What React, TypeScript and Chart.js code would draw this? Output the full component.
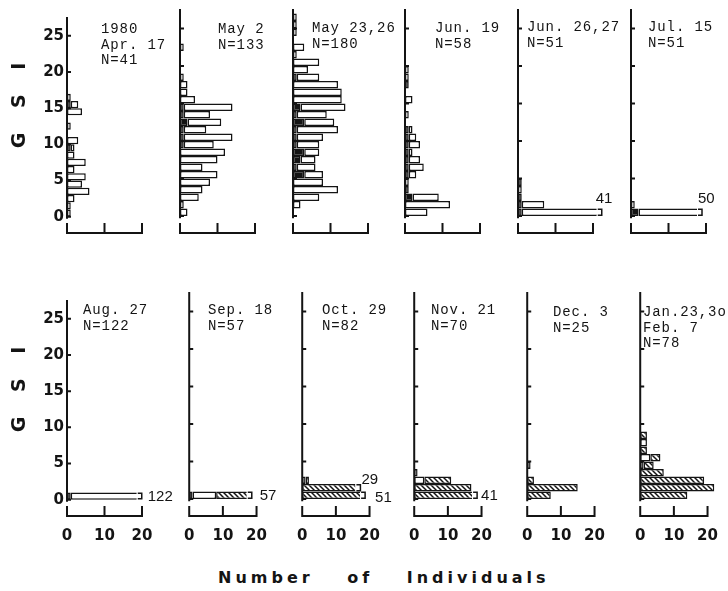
import { useEffect, useRef } from 'react';
import { Chart, registerables } from 'chart.js';

Chart.register(...registerables);

// ---------------- data ----------------
const gsiTicks = [0, 5, 10, 15, 20, 25];
const countTicks = [0, 10, 20];
const gsiMin = -2.4;
const gsiMax = 27.6;
const countMax = 24;
const binCount = 27; // GSI classes 0-1, 1-2, ... 26-27

const panelDates: string[][] = [
  ['1980', 'Apr. 17'],
  ['May 2'],
  ['May 23,26'],
  ['Jun. 19'],
  ['Jun. 26,27'],
  ['Jul. 15'],
  ['Aug. 27'],
  ['Sep. 18'],
  ['Oct. 29'],
  ['Nov. 21'],
  ['Dec. 3'],
  ['Jan.23,3o', 'Feb. 7'],
];
const sampleSizes = [41, 133, 180, 58, 51, 51, 122, 57, 82, 70, 25, 78];

// counts per GSI class (index = lower bound of class)
const blackCounts: number[][] = [
  [0, 0, 0, 0, 0, 0, 0, 0, 0, 1, 0, 0, 0, 0, 0, 1, 0],
  [0, 0, 0, 0, 0, 0, 0, 0, 0, 1, 1, 1, 2, 1, 1],
  [0, 0, 0, 0, 0, 3, 1, 2, 3, 1, 1, 1, 3, 1, 2, 0, 0, 0, 1],
  [0, 0, 2, 1, 0, 1, 1, 1, 1, 1, 1, 1, 0, 0, 0, 0, 0, 1],
  [1, 1, 1, 0, 1],
  [2],
  [1],
  [1],
  [],
  [],
  [],
  [],
];
const whiteCounts: number[][] = [
  [1, 1, 2, 6, 4, 5, 2, 5, 2, 1, 3, 0, 1, 0, 4, 2, 1],
  [2, 1, 5, 6, 8, 10, 6, 10, 12, 8, 13, 6, 9, 7, 13, 4, 2, 2, 1, 0, 0, 0, 1],
  [0, 2, 7, 12, 8, 5, 5, 4, 4, 6, 7, 11, 8, 8, 12, 13, 13, 12, 6, 4, 7, 1, 3, 0, 1, 1, 1],
  [6, 12, 7, 0, 1, 2, 4, 3, 1, 3, 2, 1, 0, 1, 0, 2, 0, 0, 1, 1],
  [40, 6, 0, 1, 0],
  [48, 1],
  [121],
  [7],
  [0, 0, 1],
  [0, 0, 3, 1],
  [0, 0, 0, 0, 1],
  [0, 0, 0, 0, 1, 3, 0, 2],
];
const hatchedCounts: number[][] = [
  [],
  [],
  [],
  [],
  [],
  [],
  [],
  [49],
  [51, 29, 1],
  [41, 17, 8],
  [7, 15, 2],
  [14, 22, 19, 7, 3, 3, 2, 0, 2],
];

// bars drawn broken (value beyond the axis)
const brokenPanel = [4, 5, 6, 7, 8, 8, 9];
const brokenBin = [0, 0, 0, 0, 1, 0, 0];
const brokenDrawnTo = [21, 17.6, 18.6, 17.1, 15.8, 17.2, 17.2];

// ---------------- layout / style ----------------
const INK = '#141414';
const PX_PER_GSI = 7.5;
const PX_PER_COUNT = 3.75;
const PAD_T = 4;
const PAD_R = 24;
const X_AXIS_H = 30;
const FIRST_AXIS_X = 67;
const COL_STEP = 112.8;
const ZERO_Y = [216, 499];
const brokenLabelOffset = [
  [-1, -13],
  [1, -13],
  [11, 1],
  [13, 1],
  [6, -8],
  [15, 3],
  [9, 1],
];
const titlePos = [
  [101, 29], [218, 29], [312, 28], [435, 28], [527, 27], [648, 27],
  [83, 310], [208, 310], [322, 310], [431, 310], [553, 312], [643, 312],
];
const tickFont = { family: "'DejaVu Sans', sans-serif", size: 15, weight: 'bold' as const };

function makeHatch(): CanvasPattern | string {
  const s = 5;
  const c = document.createElement('canvas');
  c.width = s;
  c.height = s;
  const g = c.getContext('2d');
  if (!g) return '#888';
  g.fillStyle = '#fff';
  g.fillRect(0, 0, s, s);
  g.strokeStyle = INK;
  g.lineWidth = 1.5;
  g.beginPath();
  g.moveTo(-1, -1);
  g.lineTo(s + 1, s + 1);
  g.moveTo(-1, s - 1);
  g.lineTo(1, s + 1);
  g.moveTo(s - 1, -1);
  g.lineTo(s + 1, 1);
  g.stroke();
  return g.createPattern(c, 'repeat') || '#888';
}

function Panel({ idx }: { idx: number }) {
  const ref = useRef<HTMLCanvasElement>(null);
  const col = idx % 6;
  const row = Math.floor(idx / 6);
  const padL = col === 0 ? 67 : 6;
  const axisX = FIRST_AXIS_X + COL_STEP * col;
  const plotTop = ZERO_Y[row] - gsiMax * PX_PER_GSI;
  const plotH = (gsiMax - gsiMin) * PX_PER_GSI;
  const W = padL + countMax * PX_PER_COUNT + PAD_R;
  const H = PAD_T + plotH + X_AXIS_H;

  useEffect(() => {
    if (!ref.current) return;
    const bins = Array.from({ length: binCount }, (_, k) => k);
    const b = bins.map((k) => blackCounts[idx][k] ?? 0);
    const w = bins.map((k) => whiteCounts[idx][k] ?? 0);
    const h = bins.map((k) => hatchedCounts[idx][k] ?? 0);
    const totals = bins.map((k) => b[k] + w[k] + h[k]);
    const skipEnd = new Set<string>();
    brokenPanel.forEach((p, j) => {
      if (p !== idx) return;
      const k = brokenBin[j];
      let excess = totals[k] - brokenDrawnTo[j];
      for (const seg of [h, w, b]) {
        if (excess <= 0) break;
        const cut = Math.min(seg[k], excess);
        seg[k] -= cut;
        excess -= cut;
      }
      const last = h[k] > 0 ? 2 : w[k] > 0 ? 1 : 0;
      skipEnd.add(`${last}:${k}`);
    });
    const hatch = makeHatch();
    const mk = (vals: number[], bg: any, di: number) => ({
      data: bins.map((k) => ({ x: vals[k], y: k + 0.5 })),
      backgroundColor: bg,
      borderColor: INK,
      borderWidth: 1.5,
      borderSkipped: (ctx: any) => (skipEnd.has(`${di}:${ctx.dataIndex}`) ? 'end' : false),
      inflateAmount: 0,
      barPercentage: 1,
      categoryPercentage: 1,
    });

    const plugin = {
      id: 'panelAxes',
      afterDatasetsDraw(chart: any) {
        const { ctx, chartArea } = chart;
        const xs = chart.scales.x;
        const ys = chart.scales.y;
        const x0 = xs.getPixelForValue(0);
        ctx.save();
        ctx.strokeStyle = INK;
        ctx.lineWidth = 2;
        ctx.beginPath();
        ctx.moveTo(x0, chartArea.top);
        ctx.lineTo(x0, ys.getPixelForValue(-0.3));
        gsiTicks.forEach((v) => {
          const y = ys.getPixelForValue(v);
          ctx.moveTo(x0, y);
          ctx.lineTo(x0 + 4, y);
        });
        const by = chartArea.bottom - 1;
        ctx.moveTo(x0 - 1, by);
        ctx.lineTo(xs.getPixelForValue(20) + 1, by);
        countTicks.forEach((v) => {
          const x = xs.getPixelForValue(v);
          ctx.moveTo(x, by);
          ctx.lineTo(x, by - 10);
        });
        ctx.stroke();
        brokenPanel.forEach((p, j) => {
          if (p !== idx) return;
          const k = brokenBin[j];
          const yTop = ys.getPixelForValue(k + 1);
          const yBot = ys.getPixelForValue(k);
          const xe = xs.getPixelForValue(brokenDrawnTo[j]);
          ctx.lineWidth = 1.5;
          ctx.beginPath();
          ctx.moveTo(xe + 1, yTop + 0.8);
          ctx.lineTo(xe + 5, yTop + 0.8);
          ctx.lineTo(xe + 5, yBot - 0.8);
          ctx.lineTo(xe + 1, yBot - 0.8);
          ctx.stroke();
          ctx.font = "15px 'Liberation Sans', sans-serif";
          ctx.fillStyle = INK;
          ctx.textBaseline = 'middle';
          ctx.textAlign = 'left';
          ctx.fillText(String(totals[k]), xe + brokenLabelOffset[j][0], (yTop + yBot) / 2 + brokenLabelOffset[j][1]);
        });
        ctx.restore();
      },
    };

    const chart = new Chart(ref.current, {
      type: 'bar',
      data: {
        datasets: [mk(b, INK, 0), mk(w, '#ffffff', 1), mk(h, hatch, 2)] as any,
      },
      options: {
        animation: false,
        responsive: false,
        indexAxis: 'y',
        events: [],
        layout: { padding: { top: PAD_T, right: PAD_R, left: 0, bottom: 0 } },
        plugins: { legend: { display: false }, tooltip: { enabled: false } },
        scales: {
          x: {
            type: 'linear',
            min: 0,
            max: countMax,
            offset: false,
            stacked: true,
            grid: { display: false, drawTicks: false, offset: false },
            border: { display: false },
            afterBuildTicks: (s: any) => {
              s.ticks = countTicks.map((v) => ({ value: v }));
            },
            afterFit: (s: any) => {
              s.height = X_AXIS_H;
            },
            ticks: {
              display: row === 1,
              padding: 10,
              font: tickFont,
              color: INK,
              maxRotation: 0,
              autoSkip: false,
              callback: (v: any) => String(v),
            },
          },
          y: {
            type: 'linear',
            min: gsiMin,
            max: gsiMax,
            offset: false,
            stacked: true,
            grid: { display: false, drawTicks: false, offset: false },
            border: { display: false },
            afterBuildTicks: (s: any) => {
              s.ticks = gsiTicks.map((v) => ({ value: v }));
            },
            afterFit: (s: any) => {
              s.width = padL;
            },
            ticks: {
              display: col === 0,
              padding: 3,
              font: tickFont,
              color: INK,
              autoSkip: false,
              callback: (v: any) => String(v),
            },
          },
        },
      } as any,
      plugins: [plugin],
    });
    return () => chart.destroy();
  }, []);

  return (
    <canvas
      ref={ref}
      width={W}
      height={H}
      style={{ position: 'absolute', left: axisX - padL, top: plotTop - PAD_T, width: W, height: H }}
    />
  );
}

export default function App() {
  return (
    <div
      style={{
        position: 'absolute',
        left: 0,
        top: 0,
        width: 728,
        height: 591,
        background: '#fff',
        overflow: 'hidden',
        color: INK,
      }}
    >
      {sampleSizes.map((_, i) => (
        <Panel key={i} idx={i} />
      ))}
      {sampleSizes.map((n, i) => (
        <div
          key={'t' + i}
          style={{
            position: 'absolute',
            left: titlePos[i][0],
            top: titlePos[i][1] - 6.7,
            fontFamily: "'Liberation Mono', monospace",
            fontSize: 14,
            letterSpacing: '0.9px',
            lineHeight: '15.5px',
            whiteSpace: 'pre',
          }}
        >
          {[...panelDates[i], `N=${n}`].join('\n')}
        </div>
      ))}
      {[100.5, 384.5].map((cy, r) => (
        <div
          key={'g' + r}
          style={{
            position: 'absolute',
            left: 18,
            top: cy,
            transform: 'translate(-50%, -50%) rotate(-90deg)',
            fontFamily: "'DejaVu Sans', sans-serif",
            fontWeight: 'bold',
            fontSize: 19,
            letterSpacing: '9px',
            whiteSpace: 'pre',
            lineHeight: '20px',
          }}
        >
          G S I
        </div>
      ))}
      <div
        style={{
          position: 'absolute',
          left: 218,
          top: 569.3,
          fontFamily: "'DejaVu Sans', sans-serif",
          fontWeight: 'bold',
          fontSize: 16,
          letterSpacing: '4px',
          wordSpacing: '24px',
          lineHeight: '18px',
          whiteSpace: 'pre',
        }}
      >
        Number of Individuals
      </div>
    </div>
  );
}
